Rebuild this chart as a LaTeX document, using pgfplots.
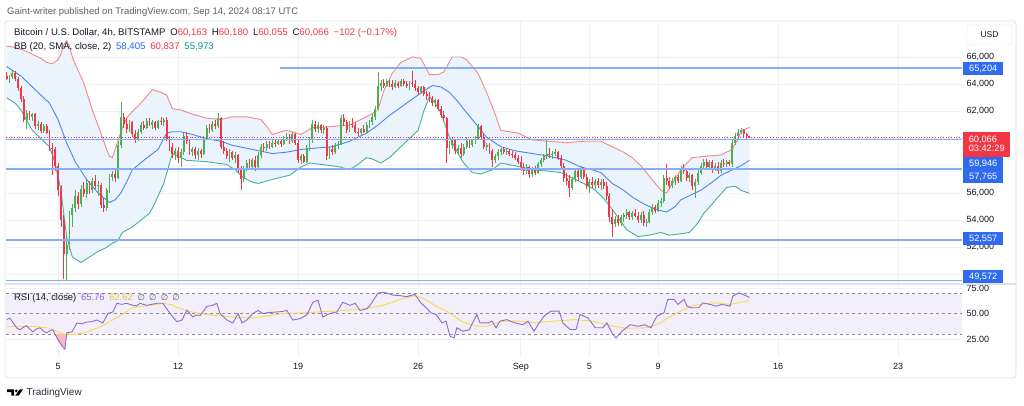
\documentclass[border=0pt]{standalone}
\usepackage{fontspec}
\setmainfont{Liberation Sans}
\newfontfamily\dejavu{DejaVu Sans}
\usepackage{pgfplots}
\pgfplotsset{compat=1.18}
\usepackage{pgfplotstable}
\pgfdeclarelayer{bg}
\pgfsetlayers{bg,main}

\definecolor{cup}{HTML}{4CAF50}
\definecolor{cdn}{HTML}{F23645}
\definecolor{bbup}{HTML}{F5868B}
\definecolor{bbmid}{HTML}{4F84F0}
\definecolor{bblo}{HTML}{4BAE9A}
\definecolor{bandfill}{HTML}{EBF4FD}
\definecolor{sline}{HTML}{86AEF5}
\definecolor{lblblue}{HTML}{2E6BF0}
\definecolor{rsiline}{HTML}{8E6BD0}
\definecolor{rsima}{HTML}{F7DC4A}
\definecolor{rsibg}{HTML}{F3EFFA}
\definecolor{gridc}{HTML}{EEF0F5}
\definecolor{txt}{HTML}{131722}
\definecolor{logotxt}{HTML}{2A2E39}
\definecolor{sub}{HTML}{5D606B}
\definecolor{framec}{HTML}{E0E3EB}
\definecolor{tealtxt}{HTML}{089981}
\definecolor{bluetxt}{HTML}{2962FF}
\definecolor{dashc}{HTML}{8A8D96}

% 4h candles, prices in thousands USD, k = candle index from Aug 2 00:00
\pgfplotstableread{
k o h l c
0 64.62 64.90 64.30 64.40
1 64.40 64.70 64.10 64.55
2 64.55 64.95 64.35 64.80
3 64.80 65.00 64.20 64.35
4 64.35 64.50 63.50 63.70
5 63.70 63.90 62.70 62.90
6 62.90 63.10 61.20 61.40
7 61.40 62.10 60.70 61.90
8 61.90 62.05 61.40 61.60
9 61.60 61.90 61.30 61.80
10 61.80 61.90 60.70 60.90
11 60.90 61.30 60.60 61.10
12 61.10 61.20 60.40 60.55
13 60.55 61.10 60.40 60.95
14 60.95 61.10 60.30 60.40
15 60.40 60.60 59.10 59.30
16 59.30 59.70 57.30 59.20
17 59.20 59.40 57.60 58.00
18 58.00 58.20 55.80 56.20
19 56.20 56.60 53.50 54.00
20 54.00 54.40 49.70 51.50
21 51.50 53.00 49.60 52.20
22 52.20 54.70 51.80 54.40
23 54.40 55.20 53.50 54.90
24 54.90 56.20 54.60 55.80
25 55.80 56.10 54.80 55.20
26 55.20 56.60 55.00 56.30
27 56.30 56.80 55.70 55.90
28 55.90 57.00 55.60 56.70
29 56.70 56.90 55.90 56.20
30 56.20 57.10 56.00 56.90
31 56.90 57.30 56.30 56.50
32 56.50 56.90 55.80 56.60
33 56.60 56.70 54.90 55.10
34 55.10 55.60 54.60 54.90
35 54.90 56.40 54.70 56.20
36 56.20 57.40 56.00 57.20
37 57.20 57.60 56.90 57.40
38 57.40 57.70 56.80 57.10
39 57.10 59.80 57.00 59.50
40 59.50 62.70 59.30 61.60
41 61.60 61.90 60.80 61.10
42 61.10 61.50 60.40 60.70
43 60.70 61.40 60.50 61.20
44 61.20 61.30 60.10 60.30
45 60.30 60.60 59.70 59.90
46 59.90 60.70 59.80 60.50
47 60.50 61.20 60.30 61.00
48 61.00 61.30 60.60 60.80
49 60.80 61.50 60.70 61.30
50 61.30 61.50 60.90 61.00
51 61.00 61.40 60.70 61.20
52 61.20 61.30 60.60 60.80
53 60.80 61.40 60.70 61.30
54 61.30 61.60 61.00 61.20
55 61.20 61.50 60.90 61.40
56 61.40 61.60 59.80 60.00
57 60.00 60.20 59.10 59.40
58 59.40 59.70 58.60 58.90
59 58.90 59.30 58.40 59.10
60 59.10 59.40 58.20 58.60
61 58.60 59.20 57.90 59.00
62 59.00 60.40 58.80 60.20
63 60.20 60.50 59.60 59.80
64 59.80 60.00 58.80 59.00
65 59.00 59.40 58.70 59.20
66 59.20 59.40 58.50 58.80
67 58.80 59.30 58.40 59.10
68 59.10 59.20 58.60 58.90
69 58.90 60.20 58.80 60.00
70 60.00 61.00 59.90 60.80
71 60.80 61.10 60.40 60.60
72 60.60 61.30 60.50 61.10
73 61.10 61.40 60.70 60.90
74 60.90 61.90 60.80 61.50
75 61.50 61.60 59.20 59.40
76 59.40 59.80 58.90 59.10
77 59.10 59.30 58.50 58.70
78 58.70 59.20 58.30 59.00
79 59.00 59.10 58.40 58.60
80 58.60 59.00 58.20 58.80
81 58.80 58.90 57.50 57.80
82 57.80 58.00 56.20 57.00
83 57.00 58.00 56.80 57.80
84 57.80 58.40 57.60 58.20
85 58.20 58.50 57.70 57.90
86 57.90 58.60 57.80 58.40
87 58.40 58.70 57.60 57.90
88 57.90 59.00 57.80 58.80
89 58.80 59.60 58.60 59.40
90 59.40 59.70 59.00 59.30
91 59.30 59.80 59.10 59.60
92 59.60 59.80 59.20 59.40
93 59.40 59.90 59.30 59.70
94 59.70 59.90 59.40 59.60
95 59.60 60.00 59.50 59.80
96 59.80 59.90 59.40 59.60
97 59.60 60.20 59.50 60.00
98 60.00 60.40 59.80 60.10
99 60.10 60.30 59.60 59.80
100 59.80 60.50 59.70 60.30
101 60.30 60.40 59.50 59.70
102 59.70 59.90 58.20 58.40
103 58.40 58.90 58.10 58.70
104 58.70 58.90 58.20 58.30
105 58.30 59.50 58.20 59.30
106 59.30 60.10 59.10 59.90
107 59.90 61.40 59.70 61.10
108 61.10 61.30 60.50 60.70
109 60.70 61.20 60.40 61.00
110 61.00 61.10 60.40 60.60
111 60.60 61.00 60.30 60.80
112 60.80 60.90 58.40 58.70
113 58.70 59.40 58.50 59.20
114 59.20 59.50 58.80 59.00
115 59.00 59.70 58.90 59.50
116 59.50 59.80 59.20 59.60
117 59.60 61.70 59.50 61.50
118 61.50 61.80 60.90 61.20
119 61.20 61.40 60.40 60.60
120 60.60 61.30 60.50 61.10
121 61.10 61.50 60.80 61.00
122 61.00 61.20 60.40 60.50
123 60.50 60.80 60.20 60.40
124 60.40 60.80 60.20 60.70
125 60.70 61.00 60.40 60.50
126 60.50 61.20 60.40 61.00
127 61.00 61.40 60.80 61.20
128 61.20 61.80 61.00 61.60
129 61.60 62.40 61.40 62.20
130 62.20 64.90 62.10 63.90
131 63.90 64.30 63.50 64.10
132 64.10 64.40 63.70 63.90
133 63.90 64.40 63.80 64.20
134 64.20 64.30 63.80 64.00
135 64.00 64.30 63.60 63.80
136 63.80 64.30 63.70 64.10
137 64.10 64.20 63.70 63.90
138 63.90 64.40 63.80 64.20
139 64.20 64.40 63.90 64.00
140 64.00 64.20 63.70 63.90
141 63.90 64.20 63.60 64.10
142 64.10 65.00 63.80 64.00
143 64.00 64.30 63.50 63.70
144 63.70 63.90 63.20 63.40
145 63.40 63.90 63.30 63.80
146 63.80 63.90 63.10 63.30
147 63.30 63.50 62.80 63.10
148 63.10 63.40 62.70 62.90
149 62.90 63.10 62.40 62.60
150 62.60 62.90 62.30 62.80
151 62.80 62.90 62.00 62.20
152 62.20 62.40 61.50 61.70
153 61.70 62.00 61.30 61.50
154 61.50 61.60 58.20 59.30
155 59.30 59.80 58.90 59.50
156 59.50 60.10 59.20 59.90
157 59.90 60.00 58.90 59.10
158 59.10 59.50 58.80 59.30
159 59.30 59.70 58.60 58.90
160 58.90 59.60 58.70 59.40
161 59.40 60.10 59.20 59.80
162 59.80 60.00 59.30 59.50
163 59.50 60.00 59.40 59.90
164 59.90 60.20 59.60 60.00
165 60.00 61.10 59.90 60.90
166 60.90 61.00 59.90 60.10
167 60.10 60.30 59.20 59.40
168 59.40 59.70 59.10 59.50
169 59.50 59.70 58.90 59.10
170 59.10 59.20 57.90 58.40
171 58.40 58.90 58.20 58.70
172 58.70 59.20 58.40 59.00
173 59.00 59.30 58.80 59.20
174 59.20 59.40 58.90 59.00
175 59.00 59.30 58.80 59.10
176 59.10 59.20 58.70 58.90
177 58.90 59.10 58.60 58.80
178 58.80 59.00 58.40 58.60
179 58.60 58.80 58.10 58.30
180 58.30 58.70 57.60 57.90
181 57.90 58.20 57.30 57.60
182 57.60 58.10 57.40 57.90
183 57.90 58.00 57.10 57.40
184 57.40 57.90 57.20 57.80
185 57.80 58.00 57.30 57.50
186 57.50 58.30 57.40 58.10
187 58.10 58.60 57.90 58.40
188 58.40 58.90 58.30 58.70
189 58.70 59.90 58.50 58.90
190 58.90 59.30 58.60 58.80
191 58.80 59.10 58.50 58.90
192 58.90 59.20 58.70 59.00
193 59.00 59.10 58.40 58.60
194 58.60 58.80 57.80 58.00
195 58.00 58.20 56.80 57.10
196 57.10 57.50 56.60 56.90
197 56.90 57.30 55.70 56.40
198 56.40 57.20 56.20 57.00
199 57.00 57.80 56.80 57.60
200 57.60 57.80 56.90 57.20
201 57.20 58.00 57.00 57.80
202 57.80 57.90 57.00 57.20
203 57.20 57.40 56.30 56.50
204 56.50 57.00 56.00 56.80
205 56.80 57.20 56.40 56.60
206 56.60 57.00 56.30 56.90
207 56.90 57.10 56.40 56.60
208 56.60 57.00 56.20 56.80
209 56.80 57.00 56.30 56.50
210 56.50 56.80 55.50 55.80
211 55.80 56.00 53.90 54.20
212 54.20 54.80 52.80 53.70
213 53.70 54.30 53.50 54.10
214 54.10 54.40 53.60 53.80
215 53.80 54.40 53.60 54.20
216 54.20 54.50 53.90 54.40
217 54.40 54.80 54.10 54.60
218 54.60 54.70 54.00 54.20
219 54.20 54.70 54.00 54.50
220 54.50 54.80 54.20 54.30
221 54.30 54.60 53.80 54.00
222 54.00 54.60 53.80 54.40
223 54.40 54.70 53.60 53.80
224 53.80 54.10 53.50 53.90
225 53.90 54.80 53.80 54.60
226 54.60 55.20 54.40 55.00
227 55.00 55.10 54.50 54.70
228 54.70 55.50 54.60 55.30
229 55.30 55.60 55.00 55.40
230 55.40 57.30 55.30 57.10
231 57.10 58.10 56.60 56.90
232 56.90 57.20 56.30 56.50
233 56.50 57.10 56.40 56.90
234 56.90 57.30 56.60 57.20
235 57.20 57.30 56.70 56.90
236 56.90 58.00 56.80 57.80
237 57.80 58.10 57.40 57.60
238 57.60 57.70 56.90 57.10
239 57.10 57.50 56.80 57.30
240 57.30 57.40 56.20 56.50
241 56.50 57.00 55.60 56.80
242 56.80 57.70 56.60 57.50
243 57.50 58.20 57.30 58.00
244 58.00 58.50 57.80 58.30
245 58.30 58.50 57.70 57.90
246 57.90 58.40 57.80 58.30
247 58.30 58.40 57.50 57.70
248 57.70 58.20 57.60 58.00
249 58.00 58.30 57.40 57.60
250 57.60 58.40 57.50 58.20
251 58.20 58.50 57.90 58.10
252 58.10 58.40 57.90 58.30
253 58.30 58.40 58.00 58.10
254 58.10 59.90 57.90 59.70
255 59.70 60.40 59.50 60.20
256 60.20 60.70 59.90 60.50
257 60.50 60.80 60.30 60.60
258 60.60 60.70 60.10 60.30
259 60.30 60.40 59.90 60.16
260 60.163 60.180 60.055 60.066
}\candles
% direction of each candle: 1 = close >= open (green), 0 = red
\pgfplotstablecreatecol[create col/expr={\thisrow{c}+0.000001>\thisrow{o}}]{d}{\candles}

% Bollinger upper
\pgfplotstableread{
k v
0 66.8
3 66.7
6 66.5
9 66.2
12 65.9
14 65.6
16 65.5
18 65.8
19 66.2
20 66.9
21 67.2
22 66.8
23 66.0
25 65.0
27 64.1
30 62.1
33 60.4
35 59.2
36 58.7
37 58.6
38 59.2
40 60.5
42 61.5
44 62.0
47 62.6
49 63.1
51 63.6
54 63.4
56 63.2
58 62.2
61 62.1
65 61.8
70 61.5
75 61.4
79 61.6
84 61.6
89 61.4
91 60.9
93 60.3
96 60.5
98 60.6
100 60.5
103 60.3
107 60.8
110 60.8
114 60.9
120 61.0
126 61.6
130 62.1
132 63.5
135 64.8
138 65.6
142 66.0
145 65.9
148 64.7
151 64.7
153 64.9
156 66.0
159 66.0
161 65.8
165 64.8
168 63.4
171 61.8
173 60.6
179 60.4
184 59.9
190 59.8
196 59.7
202 59.8
208 59.8
212 59.4
216 59.0
219 58.6
222 58.0
224 57.5
227 56.7
229 56.2
231 56.0
233 56.7
236 57.7
240 58.6
245 58.7
250 58.8
254 59.2
256 60.0
257 60.5
260 60.837
}\bbU

% Bollinger basis (SMA 20)
\pgfplotstableread{
k v
0 65.3
5 64.6
9 63.8
12 63.2
15 62.6
18 61.4
21 59.7
24 58.3
28 57.0
32 56.0
36 55.3
38 55.5
40 56.0
42 56.8
44 57.7
48 58.4
53 59.2
56 60.4
58 60.5
61 60.5
65 60.3
70 60.0
75 59.8
79 59.5
86 59.2
93 58.9
98 59.0
103 59.2
108 59.3
114 59.4
120 59.8
126 60.4
130 61.0
134 61.7
138 62.3
142 62.9
146 63.5
149 63.9
152 63.8
155 63.4
158 62.7
161 61.9
165 60.9
168 60.1
173 59.4
178 59.1
184 58.9
190 58.7
196 58.4
201 57.9
205 57.7
208 57.5
212 56.7
216 56.2
219 55.7
223 55.2
226 54.9
229 54.7
231 54.6
234 55.0
236 55.5
240 55.9
243 56.2
247 56.8
250 57.3
254 57.7
257 58.0
260 58.405
}\bbM

% Bollinger lower
\pgfplotstableread{
k v
0 63.0
3 62.6
5 62.1
9 60.6
12 60.0
15 59.4
17 58.2
19 56.2
21 52.8
23 51.3
26 50.9
29 51.3
32 51.7
35 52.0
37 52.3
39 52.5
40.5 53.1
44 53.5
47 54.0
50 54.5
52 55.3
55 56.7
58 58.9
61 58.6
63 58.4
70 58.3
77 58.1
80 57.7
83 57.1
86 56.8
88 56.7
93 57.0
99 57.3
103 57.9
106 58.2
110 58.1
114 58.0
117 57.9
120 57.7
123 58.1
126 58.6
128 58.5
131 58.2
134 58.6
138 59.4
141 60.0
144 60.6
146 62.0
148 63.1
150 62.6
152 61.9
155 60.1
158 58.9
160 58.2
163 57.5
166 57.4
170 57.7
173 58.2
178 58.0
184 57.7
190 57.6
194 57.5
198 57.1
202 56.7
206 56.2
209 55.6
212 54.8
215 53.9
217 53.3
221 52.8
225 52.9
229 53.1
232 52.9
236 53.0
239 53.1
242 53.8
244 54.5
247 55.2
249 55.7
252 56.4
255 56.5
257 56.2
260 55.973
}\bbL

% band outline: upper band forward, lower band backward
\pgfplotstableread{
k v
0 66.8
3 66.7
6 66.5
9 66.2
12 65.9
14 65.6
16 65.5
18 65.8
19 66.2
20 66.9
21 67.2
22 66.8
23 66.0
25 65.0
27 64.1
30 62.1
33 60.4
35 59.2
36 58.7
37 58.6
38 59.2
40 60.5
42 61.5
44 62.0
47 62.6
49 63.1
51 63.6
54 63.4
56 63.2
58 62.2
61 62.1
65 61.8
70 61.5
75 61.4
79 61.6
84 61.6
89 61.4
91 60.9
93 60.3
96 60.5
98 60.6
100 60.5
103 60.3
107 60.8
110 60.8
114 60.9
120 61.0
126 61.6
130 62.1
132 63.5
135 64.8
138 65.6
142 66.0
145 65.9
148 64.7
151 64.7
153 64.9
156 66.0
159 66.0
161 65.8
165 64.8
168 63.4
171 61.8
173 60.6
179 60.4
184 59.9
190 59.8
196 59.7
202 59.8
208 59.8
212 59.4
216 59.0
219 58.6
222 58.0
224 57.5
227 56.7
229 56.2
231 56.0
233 56.7
236 57.7
240 58.6
245 58.7
250 58.8
254 59.2
256 60.0
257 60.5
260 60.837
260 55.973
257 56.2
255 56.5
252 56.4
249 55.7
247 55.2
244 54.5
242 53.8
239 53.1
236 53.0
232 52.9
229 53.1
225 52.9
221 52.8
217 53.3
215 53.9
212 54.8
209 55.6
206 56.2
202 56.7
198 57.1
194 57.5
190 57.6
184 57.7
178 58.0
173 58.2
170 57.7
166 57.4
163 57.5
160 58.2
158 58.9
155 60.1
152 61.9
150 62.6
148 63.1
146 62.0
144 60.6
141 60.0
138 59.4
134 58.6
131 58.2
128 58.5
126 58.6
123 58.1
120 57.7
117 57.9
114 58.0
110 58.1
106 58.2
103 57.9
99 57.3
93 57.0
88 56.7
86 56.8
83 57.1
80 57.7
77 58.1
70 58.3
63 58.4
61 58.6
58 58.9
55 56.7
52 55.3
50 54.5
47 54.0
44 53.5
40.5 53.1
39 52.5
37 52.3
35 52.0
32 51.7
29 51.3
26 50.9
23 51.3
21 52.8
19 56.2
17 58.2
15 59.4
12 60.0
9 60.6
5 62.1
3 62.6
0 63.0
}\band

% RSI (14)
\pgfplotstableread{
k v
0 44.0
1.2 45.5
2.3 40.7
3.5 36
4.7 34
5.8 36.5
7 38
8 35
9.2 32
10.5 35
11.7 36
12.8 33
14 31
15 33
16.2 34
18 24
19.7 17
20.4 15
21.1 31
22.9 32
24.6 40.7
26.3 40
28 41.6
29.8 42
31.6 43.6
33.7 40.7
35.5 50
37.2 51.5
38.6 60
40.3 59
42 60
44.2 58
45.5 57.5
46.7 60
49 58
50.8 59
52.6 60
54.7 60
57.2 50
59.6 42
61.4 43.6
63.1 53.4
65.2 46.6
66.5 48.5
67.7 48
70.1 56.9
72 58
73.6 60
74.7 50
77.1 43.6
79.2 40.7
81 50
82.4 40.7
84.1 43.6
86.2 50
88 53
89.7 50
92 51
94.6 51.5
96.5 52
98.1 53
100.2 43.6
102.7 45
105.1 48.5
107.2 61
109 63
110.7 46.6
113.2 50
115.6 51.5
117.7 61
120.2 58
122 60
123.7 53
126.1 54.6
127.2 58
130 70
131.5 71
133.1 70
135.2 68
137.7 67.5
140 66.5
142.9 68.7
145 60.5
147 55
148.5 50.7
150.3 49
152.4 40.8
153.8 42.5
155.2 27.7
156.6 26
157.6 36
159.7 32.6
161.9 34
164.6 49
165.7 40.8
168.5 40.8
169.9 42.5
171.3 36
172.7 42.5
175.1 44
177.9 40.8
180.7 39
182.5 42.5
184.6 32.6
186 39
188.1 47.4
190.5 52.3
193.4 52.3
194.7 40.8
197.2 34.3
199.3 34.3
200.7 49
203.5 45.7
206 36
208.7 36
210.1 40.8
212.2 29.3
213.3 26
215.4 32.6
218.2 39
221 37.5
223.4 39
225.5 36
227.6 47.4
230.1 50.7
231.4 63.8
233.6 63.8
235 58.9
237.1 63.8
238.2 57.2
239.6 55.6
242.3 55.6
243.7 60.5
246.2 58.9
248.3 57.2
250.4 58.9
253.2 57.2
254.2 67
256.3 70.3
257.7 68.7
259.1 67
260 65.76
}\rsi

% RSI-based moving average
\pgfplotstableread{
k v
0 37
5 37.5
11 37
15 35.6
18 32
21 29
24 29.5
27 31
30 34
33 37
36 42
39 46.6
42 52
44 55.5
47 57
50 58
55 60
58 58.5
60 55.5
64 52
68 50
73 48
79 46.6
86 45.5
92 48
97 50
103 50.5
109 51.5
115 52.5
120 53.4
126 55
130 56.9
134 60
138 64
143 67.5
146 64.5
148.5 60.5
151 56
154 52.3
157 47
159 42.5
162 39.5
165 37.5
168.5 37.5
171 40
174 42.5
179.5 42.5
185 40.8
191.5 42.5
199 44
205 42.5
210 39
215.4 36
219 35.5
223.4 36
226 37.5
229 41
231.4 45.7
235 51
239.6 57.2
243 59
247.6 60.5
250 60
253.2 58.9
256 60.5
259 62.2
260 62.62
}\rsima

\pgfplotsset{
  pane/.style={scale only axis, anchor=south west, width=956pt,
    xmin=-0.21, xmax=334.4,
    axis line style={draw=none}, major tick length=0pt,
    xtick={18,60,102,144,180,204,228,270,312},
    xmajorgrids, ymajorgrids, major grid style={gridc, line width=0.8pt},
    yticklabel pos=right,
    yticklabel style={font=\fontsize{9}{10}\selectfont, text=txt, anchor=west, xshift=1pt}},
}

\begin{document}
\begin{tikzpicture}

% main price pane
\begin{axis}[pane, at={(6pt,122pt)}, height=262pt,
  ymin=49.31, ymax=68.57,
  xticklabels={},
  ytick={50,52,...,66},
  yticklabels={{50,000},{52,000},{54,000},{56,000},{},{},{62,000},{64,000},{66,000}},
  colormap={candlecols}{color=(cdn) color=(cup)},
  point meta min=0, point meta max=1]
\addplot[draw=none, fill=bandfill, forget plot] table[x=k,y=v]{\band} -- cycle;
\addplot[bbup, line width=0.9pt, forget plot] table[x=k,y=v]{\bbU};
\addplot[bblo, line width=0.9pt, forget plot] table[x=k,y=v]{\bbL};
\addplot[bbmid, line width=0.9pt, forget plot] table[x=k,y=v]{\bbM};
% candles: wicks low->high, bodies open->close, coloured by direction
\addplot[forget plot, point meta=explicit,
  quiver={u=0, v=\thisrow{h}-\thisrow{l}, colored=mapped color,
    every arrow/.append style={line width=0.6pt}}]
  table[x=k, y=l, meta=d]{\candles};
\addplot[forget plot, point meta=explicit,
  quiver={u=0, v=\thisrow{c}-\thisrow{o}, colored=mapped color,
    every arrow/.append style={line width=1.9pt}}]
  table[x=k, y=o, meta=d]{\candles};
% horizontal levels
\addplot[sline, line width=1.6pt, forget plot] coordinates {(95.7,65.204) (334.4,65.204)};
\addplot[sline, line width=1.6pt, forget plot] coordinates {(-0.21,59.946) (334.4,59.946)};
\addplot[sline, line width=1.6pt, forget plot] coordinates {(-0.21,57.765) (334.4,57.765)};
\addplot[sline, line width=1.6pt, forget plot] coordinates {(-0.21,52.557) (334.4,52.557)};
\addplot[sline, line width=1.6pt, forget plot] coordinates {(-0.21,49.572) (334.4,49.572)};
\addplot[cdn, dotted, line width=0.7pt, forget plot] coordinates {(-0.21,60.066) (334.4,60.066)};
\end{axis}

% RSI pane
\begin{axis}[pane, at={(6pt,49pt)}, height=72pt,
  ymin=7.35, ymax=77.94,
  ytick={25,50,75}, yticklabels={25.00,50.00,75.00},
  xticklabels={5,12,19,26,Sep,5,9,16,23},
  xticklabel style={font=\fontsize{9}{10}\selectfont, text=txt, yshift=-3pt}]
\addplot[draw=none, fill=rsibg, forget plot] coordinates {(-0.21,30) (-0.21,70) (334.4,70) (334.4,30)};
\addplot[dashc, dash pattern=on 3pt off 3pt, line width=0.6pt, forget plot] coordinates {(-0.21,70) (334.4,70)};
\addplot[dashc, dash pattern=on 3pt off 3pt, line width=0.6pt, forget plot] coordinates {(-0.21,50) (334.4,50)};
\addplot[dashc, dash pattern=on 3pt off 3pt, line width=0.6pt, forget plot] coordinates {(-0.21,30) (334.4,30)};
\addplot[draw=none, fill=cdn!35, forget plot] coordinates {(16.9,30) (18,24) (19.7,17) (20.4,15) (21.06,30)};
\addplot[rsima, line width=0.9pt, forget plot] table[x=k,y=v]{\rsima};
\addplot[rsiline, line width=0.9pt, forget plot] table[x=k,y=v]{\rsi};
\end{axis}

\begin{scope}[x=1pt,y=1pt]
\draw[framec, line width=0.8pt, rounded corners=3pt] (5,28) rectangle (1016,385);
\draw[framec, line width=1.2pt] (5,122) -- (1016,122);

% texts
\node[anchor=west, text=sub, font=\fontsize{9.5}{11}\selectfont, inner sep=0pt] at (7,393.5)
  {Gaint-writer published on TradingView.com, Sep 14, 2024 08:17 UTC};
\node[anchor=west, text=txt, font=\fontsize{9.6}{11}\selectfont, inner sep=0pt] at (14,372.7)
  {Bitcoin / U.S. Dollar, 4h, BITSTAMP\enspace O\textcolor{cdn}{60,163}\enspace H\textcolor{cdn}{60,180}\enspace L\textcolor{cdn}{60,055}\enspace C\textcolor{cdn}{60,066}\enspace\textcolor{cdn}{−102 (−0.17\%)}};
\node[anchor=west, text=txt, font=\fontsize{9.6}{11}\selectfont, inner sep=0pt] at (14,359.3)
  {BB (20, SMA, close, 2)\enspace\textcolor{bluetxt}{58,405}\enspace\textcolor{cdn}{60,837}\enspace\textcolor{tealtxt}{55,973}};
\node[anchor=west, text=txt, font=\fontsize{9.4}{11}\selectfont, inner sep=0pt] at (14,108)
  {RSI (14, close)\enspace\textcolor{rsiline}{65.76}\enspace\textcolor{rsima!90!black}{62.62}\enspace{\dejavu\fontsize{8.5}{10}\selectfont\textcolor{sub}{∅\enspace∅\enspace∅\enspace∅}}};

% price scale
\node[draw=framec, rounded corners=3pt, minimum width=45pt, minimum height=20pt, text=txt,
  font=\fontsize{8.5}{10}\selectfont] at (989.5,371) {USD};
\tikzset{lbl/.style={fill=#1, text=white, anchor=west, minimum width=40pt, minimum height=13pt,
  inner sep=1pt, font=\fontsize{9.2}{10}\selectfont}}
\node[lbl=lblblue] at (963,337.5) {65,204};
\node[lbl=cdn, minimum width=47pt, minimum height=25pt, align=left, inner sep=2pt] at (963,261.8)
  {60,066\\[-1pt]03:42:29};
\node[lbl=lblblue] at (963,242.6) {59,946};
\node[lbl=lblblue] at (963,229.4) {57,765};
\node[lbl=lblblue] at (963,167) {52,557};
\node[lbl=lblblue] at (963,129) {49,572};

% footer logo
\fill[black] (7,16.5) -- (14.2,16.5) -- (14.2,10.3) -- (11.4,10.3) -- (11.4,13.8) -- (7,13.8) -- cycle;
\fill[black] (16.3,15.1) circle (1.45);
\fill[black] (15.2,10.3) -- (19.6,16.5) -- (23,16.5) -- (18.6,10.3) -- cycle;
\node[anchor=west, text=logotxt, font=\fontsize{10}{11}\selectfont, inner sep=0pt] at (26.5,13.5) {TradingView};

\begin{pgfonlayer}{bg}
\fill[white] (0,0) rectangle (1024,406);
\end{pgfonlayer}
\end{scope}
\pgfresetboundingbox
\path[use as bounding box] (0pt,0pt) rectangle (1024pt,406pt);
\end{tikzpicture}
\end{document}
